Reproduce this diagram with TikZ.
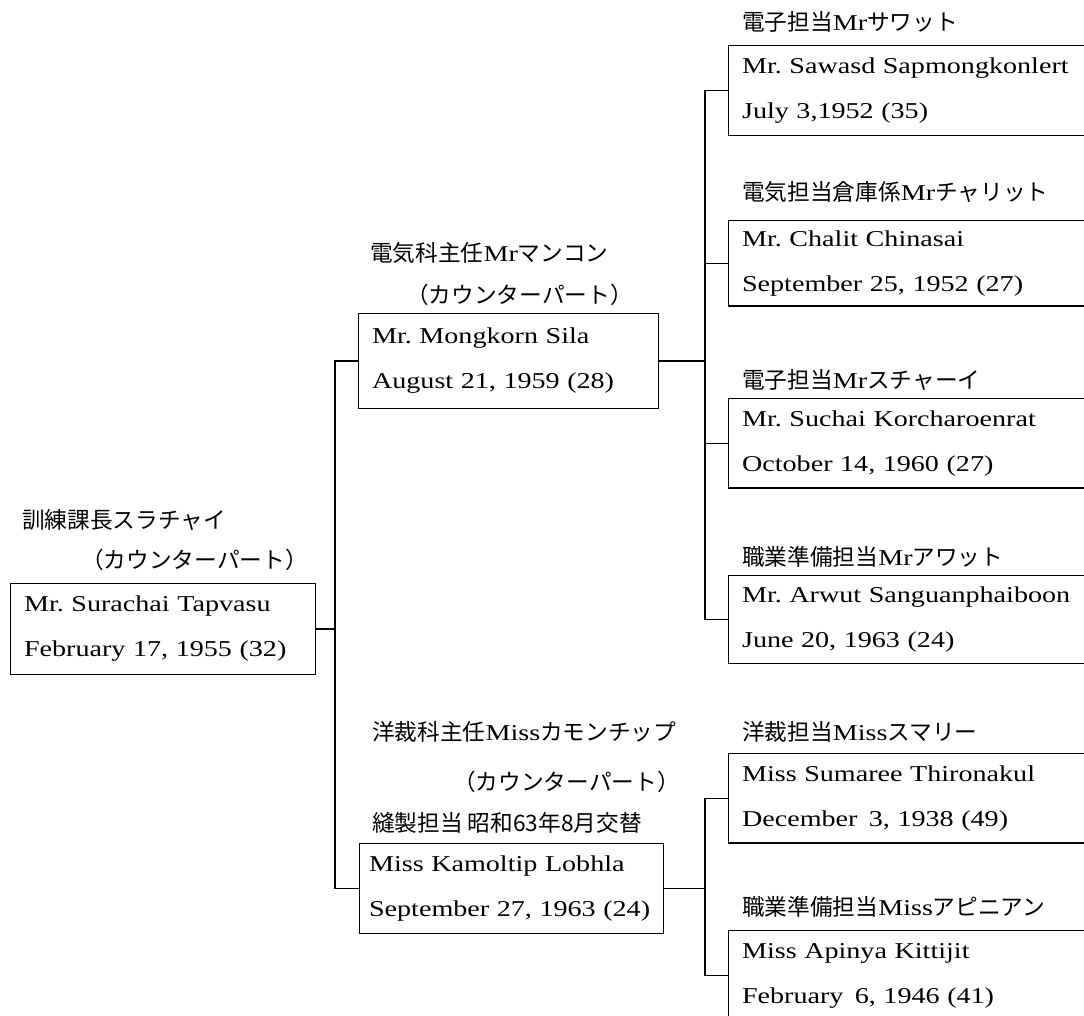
\documentclass[tikz,border=0pt]{standalone}
\usepackage{fontspec}
\setmainfont{Liberation Serif}[FakeStretch=1.24]
\newfontfamily\jp{Noto Sans CJK JP}
\tikzset{
  txt/.style={font=\fontsize{17pt}{33.75pt}\selectfont\frenchspacing},
  card/.style={draw, line width=1.1pt, rectangle, anchor=north west, align=left,
    inner xsep=10pt, inner ysep=0pt, txt},
  lbl/.style={inner sep=0pt, txt},
  wire/.style={line width=1.1pt}
}
\begin{document}
\begin{tikzpicture}[x=0.75pt, y=-0.75pt]
\useasboundingbox (0,0) rectangle (1084,1016);
\clip (0,0) rectangle (1084,1016);
\fill[white] (0,0) rectangle (1084,1016);

% root
\node[lbl, anchor=west] (lr1) at (22,520) {\jp 訓練課長スラチャイ};
\node[lbl, anchor=east] (lr2) at (308,560) {\jp （カウンターパート）};
\node[card, text width=208.75pt, minimum height=68pt] (root) at (10,583)
  {Mr. Surachai Tapvasu\\February 17, 1955 (32)};

% middle 1
\node[lbl, anchor=west] (lm1a) at (370,253) {{\jp 電気科主任}Mr{\jp マンコン}};
\node[lbl, anchor=east] (lm1b) at (633,295) {\jp （カウンターパート）};
\node[card, text width=205pt, minimum height=71pt] (m1) at (358,313)
  {Mr. Mongkorn Sila\\August 21, 1959 (28)};

% middle 2
\node[lbl, anchor=west] (lm2a) at (372,732) {{\jp 洋裁科主任}Miss{\jp カモンチップ}};
\node[lbl, anchor=east] (lm2b) at (680,782) {\jp （カウンターパート）};
\node[lbl, anchor=west] (lm2c) at (372,823) {\jp 縫製担当\ 昭和63年8月交替};
\node[card, text width=214pt, inner xsep=7pt, minimum height=67.5pt] (m2) at (359,843)
  {Miss Kamoltip Lobhla\\September 27, 1963 (24)};

% right column
\node[lbl, anchor=west] (la) at (742,22) {{\jp 電子担当}Mr{\jp サワット}};
\node[card, text width=280pt, minimum height=67.5pt] (A) at (728,45)
  {Mr. Sawasd Sapmongkonlert\\July 3,1952 (35)};

\node[lbl, anchor=west] (lb) at (742,192) {{\jp 電気担当倉庫係}Mr{\jp チャリット}};
\node[card, text width=280pt, minimum height=64pt] (B) at (728,220)
  {Mr. Chalit Chinasai\\September 25, 1952 (27)};

\node[lbl, anchor=west] (lc) at (742,380) {{\jp 電子担当}Mr{\jp スチャーイ}};
\node[card, text width=280pt, minimum height=67pt] (C) at (728,398)
  {Mr. Suchai Korcharoenrat\\October 14, 1960 (27)};

\node[lbl, anchor=west] (ld) at (742,557) {{\jp 職業準備担当}Mr{\jp アワット}};
\node[card, text width=280pt, minimum height=66pt] (D) at (728,575)
  {Mr. Arwut Sanguanphaiboon\\June 20, 1963 (24)};

\node[lbl, anchor=west] (le) at (742,732) {{\jp 洋裁担当}Miss{\jp スマリー}};
\node[card, text width=280pt, minimum height=67pt] (E) at (728,753)
  {Miss Sumaree Thironakul\\December\enspace 3, 1938 (49)};

\node[lbl, anchor=west] (lf) at (742,907) {{\jp 職業準備担当}Miss{\jp アピニアン}};
\node[card, text width=280pt, minimum height=67.5pt] (F) at (728,930)
  {Miss Apinya Kittijit\\February\enspace 6, 1946 (41)};

% trunks
\coordinate (lt) at (335,0);
\coordinate (rt) at (705,0);

\draw[wire] (root.east) -- (root.east -| lt);
\draw[wire] (m1.west) -- (m1.west -| lt) -- (m2.west -| lt) -- (m2.west);

\draw[wire] (m1.east) -- (m1.east -| rt);
\draw[wire] (A.west) -- (A.west -| rt) -- (D.west -| rt) -- (D.west);
\draw[wire] (B.west) -- (B.west -| rt);
\draw[wire] (C.west) -- (C.west -| rt);

\draw[wire] (m2.east) -- (m2.east -| rt);
\draw[wire] (E.west) -- (E.west -| rt) -- (F.west -| rt) -- (F.west);
\end{tikzpicture}
\end{document}
